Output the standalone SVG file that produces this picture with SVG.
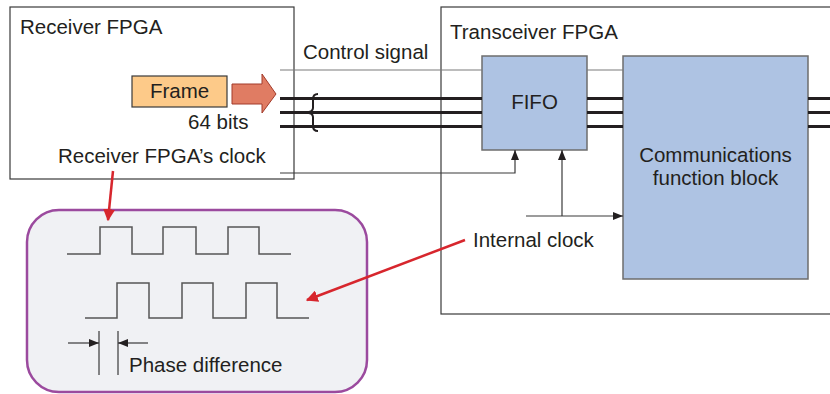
<svg xmlns="http://www.w3.org/2000/svg" width="830" height="394" viewBox="0 0 830 394">
<defs>
<style>
text{font-family:"Liberation Sans",Arial,sans-serif;font-size:20.5px;fill:#231f20}
.frame{fill:none;stroke:#3a3a3a;stroke-width:1.2}
.thin{fill:none;stroke:#3a3a3a;stroke-width:1.2}
.gray{fill:none;stroke:#7a7a7a;stroke-width:1.2}
.bus{fill:none;stroke:#231f20;stroke-width:3}
.blk{fill:#aec3e3;stroke:#6d6d6d;stroke-width:1.5}
.wave{fill:none;stroke:#555;stroke-width:1.5}
.red{fill:none;stroke:#d7262d;stroke-width:2.5}
</style>
<marker id="ah" viewBox="0 0 10 10" refX="10" refY="5" markerWidth="10" markerHeight="10" markerUnits="userSpaceOnUse" orient="auto"><path d="M0,1 L10,5 L0,9 z" fill="#231f20"/></marker>
<marker id="rh" viewBox="0 0 10 10" refX="9" refY="5" markerWidth="12" markerHeight="12" markerUnits="userSpaceOnUse" orient="auto"><path d="M0,0 L10,5 L0,10 z" fill="#d7262d"/></marker>
</defs>

<g id="receiver-fpga">
<rect x="10" y="7" width="284" height="172" fill="#fff" class="frame"/>
<text x="20" y="34">Receiver FPGA</text>
<text x="58" y="163">Receiver FPGA’s clock</text>
</g>

<g id="transceiver-fpga">
<rect x="441" y="7" width="400" height="307" fill="#fff" class="frame"/>
<text x="450" y="39">Transceiver FPGA</text>
</g>

<g id="frame">
<rect x="132" y="76" width="95" height="31" fill="#fdca89" stroke="#3a3a3a" stroke-width="1.2"/>
<text x="179.5" y="98" text-anchor="middle">Frame</text>
<path d="M232,84 H262 V74 L276,94 L262,113 V104 H232 Z" fill="#e07c63" stroke="#a23a2a" stroke-width="1"/>
<text x="188" y="129">64 bits</text>
</g>

<g id="control-label">
<text x="303" y="59">Control signal</text>
</g>

<g id="fifo">
<rect x="482" y="56" width="105" height="94" class="blk"/>
<text x="534.5" y="109" text-anchor="middle">FIFO</text>
</g>

<g id="comm-block">
<rect x="623" y="56" width="185" height="223" class="blk"/>
<text x="715.5" y="162" text-anchor="middle">Communications</text>
<text x="715.5" y="185" text-anchor="middle">function block</text>
</g>

<g id="internal-clock-label">
<text x="473" y="247">Internal clock</text>
</g>

<g id="clock-panel">
<rect x="27" y="210" width="340" height="182" rx="32" ry="32" fill="#f0f1f4" stroke="#9b4a9e" stroke-width="2.5"/>
<path class="wave" d="M67,254 H100 V227 H132 V254 H163 V227 H196 V254 H228 V227 H259 V254 H291"/>
<path class="wave" d="M85,318 H117 V283 H149 V318 H182 V283 H213 V318 H246 V283 H277 V318 H309"/>
<path class="thin" d="M99,331 V375 M118,331 V375"/>
<path class="thin" d="M68,343 H99" marker-end="url(#ah)"/>
<path class="thin" d="M148,343 H118" marker-end="url(#ah)"/>
<text x="129" y="372">Phase difference</text>
</g>

<g id="connectors">
<path class="gray" d="M280,70 H482 M587,70 H623"/>
<path class="bus" d="M280,98.5 H482 M280,112.5 H482 M280,126.5 H482 M587,98.5 H623 M587,112.5 H623 M587,126.5 H623 M808,98.5 H830 M808,112.5 H830 M808,126.5 H830"/>
<path d="M318,94 Q313,94 313,99 V108 Q313,112 306,112.5 Q313,113 313,117 V126 Q313,131 318,131" fill="none" stroke="#231f20" stroke-width="2"/>
<path class="thin" d="M280,173 H515 V150" marker-end="url(#ah)"/>
<path class="thin" d="M526,216 H623" marker-end="url(#ah)"/>
<path class="thin" d="M562,216 V150" marker-end="url(#ah)"/>
<path class="red" d="M113,171 L108,220" marker-end="url(#rh)"/>
<path class="red" d="M465,240 L307,300" marker-end="url(#rh)"/>
</g>
</svg>
